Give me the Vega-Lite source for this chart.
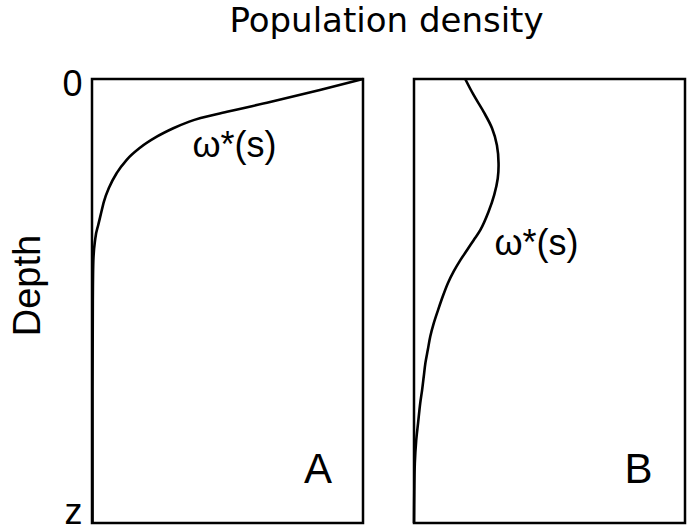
{
  "$schema": "https://vega.github.io/schema/vega-lite/v6.json",
  "background": "white",
  "padding": {"left": 8, "top": 4, "right": 5, "bottom": 0},
  "title": {"text": "Population density", "fontSize": 34, "font": "DejaVu Sans", "fontWeight": "normal", "color": "black", "anchor": "middle", "offset": 26, "dx": 39},
  "config": {"view": {"stroke": "black", "strokeWidth": 2.5}, "concat": {"spacing": 37}},
  "datasets": {
    "a": [
      {"density": 1.0, "depth": 0.0},
      {"density": 0.841, "depth": 0.025},
      {"density": 0.657, "depth": 0.052},
      {"density": 0.498, "depth": 0.074},
      {"density": 0.359, "depth": 0.096},
      {"density": 0.3, "depth": 0.111},
      {"density": 0.239, "depth": 0.13},
      {"density": 0.177, "depth": 0.155},
      {"density": 0.128, "depth": 0.182},
      {"density": 0.091, "depth": 0.212},
      {"density": 0.064, "depth": 0.243},
      {"density": 0.044, "depth": 0.276},
      {"density": 0.032, "depth": 0.306},
      {"density": 0.023, "depth": 0.329},
      {"density": 0.012, "depth": 0.36},
      {"density": 0.005, "depth": 0.408},
      {"density": 0.003, "depth": 0.5},
      {"density": 0.002, "depth": 0.7},
      {"density": 0.002, "depth": 1.0}
    ],
    "b": [
      {"density": 0.189, "depth": 0.0},
      {"density": 0.22, "depth": 0.036},
      {"density": 0.257, "depth": 0.074},
      {"density": 0.288, "depth": 0.111},
      {"density": 0.306, "depth": 0.149},
      {"density": 0.312, "depth": 0.19},
      {"density": 0.309, "depth": 0.224},
      {"density": 0.296, "depth": 0.261},
      {"density": 0.275, "depth": 0.299},
      {"density": 0.245, "depth": 0.34},
      {"density": 0.22, "depth": 0.363},
      {"density": 0.196, "depth": 0.385},
      {"density": 0.171, "depth": 0.408},
      {"density": 0.146, "depth": 0.434},
      {"density": 0.125, "depth": 0.46},
      {"density": 0.106, "depth": 0.49},
      {"density": 0.089, "depth": 0.52},
      {"density": 0.073, "depth": 0.55},
      {"density": 0.06, "depth": 0.58},
      {"density": 0.051, "depth": 0.61},
      {"density": 0.042, "depth": 0.64},
      {"density": 0.036, "depth": 0.67},
      {"density": 0.03, "depth": 0.7},
      {"density": 0.023, "depth": 0.73},
      {"density": 0.015, "depth": 0.775},
      {"density": 0.008, "depth": 0.815},
      {"density": 0.003, "depth": 0.866},
      {"density": 0.001, "depth": 0.93},
      {"density": 0.0, "depth": 1.0}
    ]
  },
  "hconcat": [
    {
      "width": 271,
      "height": 444,
      "layer": [
        {
          "data": {"name": "a"},
          "mark": {"type": "line", "color": "black", "strokeWidth": 2.6, "interpolate": "monotone"},
          "encoding": {
            "x": {"field": "density", "type": "quantitative", "scale": {"domain": [0, 1], "nice": false, "zero": false}, "axis": null},
            "y": {"field": "depth", "type": "quantitative", "scale": {"domain": [0, 1], "reverse": true, "nice": false, "zero": false},
              "axis": {"values": [0, 1], "labelExpr": "datum.value == 0 ? '0' : 'z'", "ticks": false, "domain": false, "grid": false,
                "labelFontSize": 36, "labelFont": "Liberation Sans", "labelColor": "black", "labelPadding": 10, "labelBaseline": "alphabetic",
                "labelOffset": {"condition": {"test": "datum.value == 0", "value": 16}, "value": 0},
                "title": "Depth", "titleFontSize": 38, "titleFont": "Liberation Sans", "titleFontWeight": "normal", "titleColor": "black", "titlePadding": 14, "titleY": 206}},
            "order": {"field": "depth"}
          }
        },
        {
          "data": {"values": [{}]},
          "mark": {"type": "text", "text": "ω*(s)", "fontSize": 36, "font": "Liberation Sans", "color": "black", "align": "center", "baseline": "alphabetic"},
          "encoding": {"x": {"datum": 0.526, "type": "quantitative"}, "y": {"datum": 0.176, "type": "quantitative"}}
        },
        {
          "data": {"values": [{}]},
          "mark": {"type": "text", "text": "A", "fontSize": 42, "font": "Liberation Sans", "color": "black", "align": "center", "baseline": "alphabetic"},
          "encoding": {"x": {"datum": 0.834, "type": "quantitative"}, "y": {"datum": 0.91, "type": "quantitative"}}
        }
      ]
    },
    {
      "width": 271,
      "height": 444,
      "layer": [
        {
          "data": {"name": "b"},
          "mark": {"type": "line", "color": "black", "strokeWidth": 2.6, "interpolate": "catmull-rom"},
          "encoding": {
            "x": {"field": "density", "type": "quantitative", "scale": {"domain": [0, 1], "nice": false, "zero": false}, "axis": null},
            "y": {"field": "depth", "type": "quantitative", "scale": {"domain": [0, 1], "reverse": true, "nice": false, "zero": false}, "axis": null},
            "order": {"field": "depth"}
          }
        },
        {
          "data": {"values": [{}]},
          "mark": {"type": "text", "text": "ω*(s)", "fontSize": 36, "font": "Liberation Sans", "color": "black", "align": "center", "baseline": "alphabetic"},
          "encoding": {"x": {"datum": 0.452, "type": "quantitative"}, "y": {"datum": 0.396, "type": "quantitative"}}
        },
        {
          "data": {"values": [{}]},
          "mark": {"type": "text", "text": "B", "fontSize": 42, "font": "Liberation Sans", "color": "black", "align": "center", "baseline": "alphabetic"},
          "encoding": {"x": {"datum": 0.828, "type": "quantitative"}, "y": {"datum": 0.91, "type": "quantitative"}}
        }
      ]
    }
  ]
}
